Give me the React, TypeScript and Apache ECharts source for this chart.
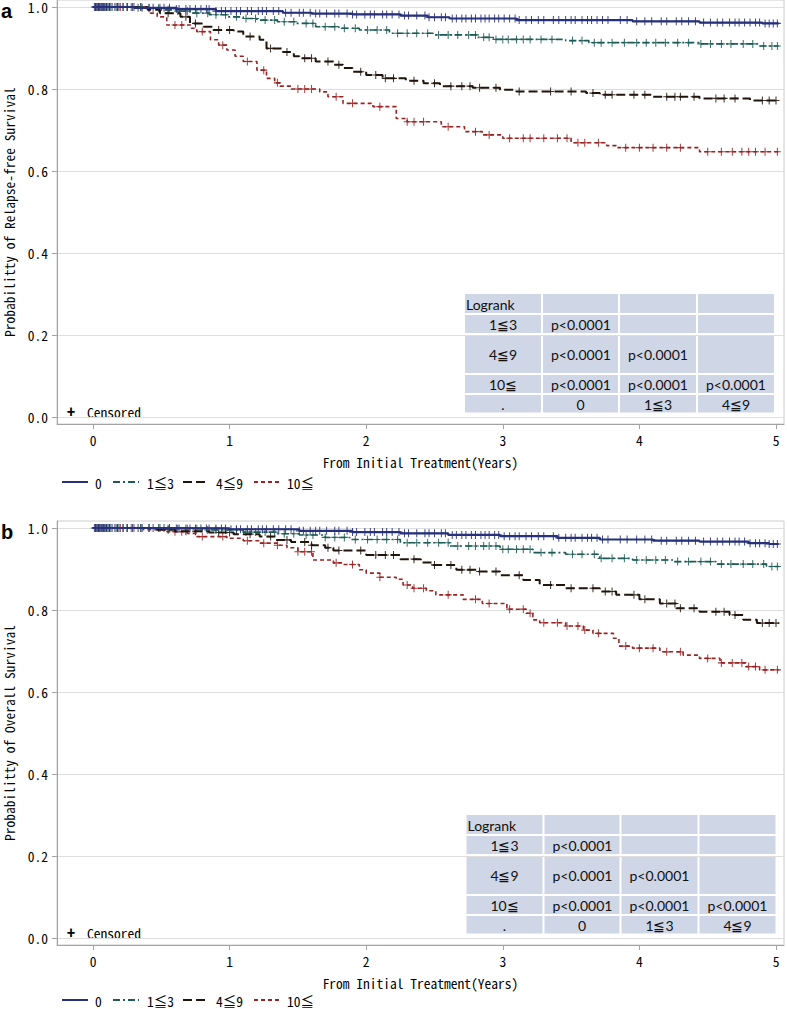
import { useEffect, useRef } from 'react';
import * as echarts from 'echarts';

// ---------- data ----------
const groups = ['0', '1≦3', '4≦9', '10≦'];
const xTicks = [0, 1, 2, 3, 4, 5];
const yTicks = [0, 0.2, 0.4, 0.6, 0.8, 1.0];
const xTitle = 'From Initial Treatment(Years)';
const yTitleA = 'Probabilitty of Relapse-free Survival';
const yTitleB = 'Probabilitty of Overall Survival';
const censoredLabel = 'Censored';

// Kaplan-Meier steps [years, survival] — panel a (relapse-free survival)
const rfs0 = [[0, 1], [0.3, 0.998], [0.61, 0.995], [0.9, 0.99], [1.39, 0.986], [1.6, 0.984], [1.9, 0.982], [2.25, 0.979], [2.45, 0.975], [2.61, 0.972], [3.1, 0.968], [3.95, 0.965], [4.44, 0.962], [4.9, 0.96], [5.02, 0.96]];
const rfs13 = [[0, 1], [0.37, 0.997], [0.5, 0.993], [0.61, 0.99], [0.73, 0.985], [0.85, 0.981], [0.98, 0.976], [1.1, 0.972], [1.2, 0.968], [1.35, 0.964], [1.49, 0.96], [1.63, 0.952], [1.8, 0.948], [1.95, 0.944], [2.17, 0.936], [2.49, 0.932], [2.81, 0.926], [2.93, 0.921], [3.46, 0.918], [3.63, 0.913], [4.44, 0.91], [4.88, 0.905], [5.02, 0.905]];
const rfs49 = [[0, 1], [0.4, 0.993], [0.49, 0.985], [0.64, 0.976], [0.71, 0.96], [0.81, 0.952], [0.88, 0.944], [1.03, 0.94], [1.1, 0.928], [1.22, 0.92], [1.27, 0.899], [1.39, 0.89], [1.47, 0.88], [1.51, 0.875], [1.63, 0.867], [1.76, 0.859], [1.83, 0.851], [1.9, 0.842], [2.0, 0.834], [2.12, 0.826], [2.29, 0.82], [2.42, 0.814], [2.54, 0.807], [2.78, 0.803], [2.98, 0.798], [3.1, 0.794], [3.61, 0.79], [3.71, 0.786], [4.1, 0.781], [4.44, 0.777], [4.81, 0.772], [5.02, 0.772]];
const rfs10 = [[0, 1], [0.39, 0.995], [0.42, 0.985], [0.47, 0.976], [0.54, 0.956], [0.72, 0.948], [0.76, 0.94], [0.86, 0.92], [0.92, 0.907], [0.98, 0.895], [1.04, 0.88], [1.1, 0.867], [1.2, 0.846], [1.27, 0.826], [1.33, 0.815], [1.37, 0.807], [1.45, 0.8], [1.66, 0.793], [1.72, 0.781], [1.83, 0.765], [2.05, 0.757], [2.22, 0.728], [2.3, 0.72], [2.55, 0.708], [2.72, 0.696], [2.85, 0.688], [3.0, 0.68], [3.5, 0.669], [3.76, 0.662], [3.83, 0.657], [4.44, 0.647], [5.02, 0.647]];

// panel b (overall survival)
const os0 = [[0, 1], [0.6, 0.999], [1.0, 0.997], [1.51, 0.993], [1.9, 0.99], [2.25, 0.987], [2.6, 0.983], [2.98, 0.98], [3.4, 0.976], [3.71, 0.972], [4.1, 0.969], [4.44, 0.967], [4.8, 0.963], [4.95, 0.961], [5.02, 0.961]];
const os13 = [[0, 1], [0.5, 0.998], [0.8, 0.995], [1.1, 0.99], [1.35, 0.986], [1.51, 0.983], [1.7, 0.977], [1.88, 0.972], [2.25, 0.964], [2.61, 0.956], [2.98, 0.948], [3.22, 0.94], [3.46, 0.936], [3.71, 0.926], [3.95, 0.922], [4.25, 0.918], [4.56, 0.912], [4.93, 0.906], [5.02, 0.906]];
const os49 = [[0, 1], [0.45, 0.996], [0.6, 0.992], [0.85, 0.989], [1.03, 0.985], [1.22, 0.979], [1.34, 0.971], [1.45, 0.966], [1.6, 0.958], [1.7, 0.952], [1.76, 0.945], [2.0, 0.934], [2.25, 0.924], [2.4, 0.916], [2.49, 0.91], [2.66, 0.898], [2.81, 0.894], [2.98, 0.885], [3.15, 0.873], [3.27, 0.861], [3.46, 0.853], [3.71, 0.845], [3.83, 0.837], [4.0, 0.826], [4.15, 0.816], [4.27, 0.804], [4.44, 0.796], [4.66, 0.788], [4.76, 0.776], [4.86, 0.768], [5.02, 0.768]];
const os10 = [[0, 1], [0.37, 0.996], [0.54, 0.991], [0.69, 0.987], [0.76, 0.979], [0.98, 0.975], [1.1, 0.969], [1.22, 0.963], [1.35, 0.958], [1.42, 0.952], [1.5, 0.942], [1.61, 0.922], [1.76, 0.915], [1.83, 0.911], [1.95, 0.898], [2.0, 0.89], [2.1, 0.88], [2.22, 0.875], [2.27, 0.861], [2.34, 0.853], [2.44, 0.847], [2.51, 0.837], [2.71, 0.826], [2.85, 0.816], [3.03, 0.802], [3.17, 0.792], [3.22, 0.776], [3.27, 0.769], [3.46, 0.761], [3.59, 0.751], [3.66, 0.743], [3.81, 0.731], [3.85, 0.712], [3.95, 0.707], [4.15, 0.698], [4.32, 0.69], [4.44, 0.682], [4.59, 0.671], [4.78, 0.662], [4.88, 0.654], [5.02, 0.654]];

// censoring times (years)
const censor0 = [0.01, 0.02, 0.03, 0.04, 0.05, 0.06, 0.07, 0.08, 0.09, 0.1, 0.11, 0.12, 0.14, 0.16, 0.19, 0.22, 0.25, 0.29, 0.33, 0.36, 0.41, 0.44, 0.49, 0.52, 0.56, 0.61, 0.63, 0.68, 0.71, 0.75, 0.79, 0.83, 0.85, 0.9, 0.94, 0.97, 1.01, 1.05, 1.08, 1.13, 1.16, 1.21, 1.24, 1.27, 1.32, 1.36, 1.41, 1.45, 1.51, 1.54, 1.59, 1.63, 1.66, 1.71, 1.77, 1.8, 1.86, 1.9, 1.93, 1.99, 2.03, 2.06, 2.12, 2.15, 2.19, 2.24, 2.28, 2.31, 2.37, 2.43, 2.46, 2.5, 2.55, 2.58, 2.63, 2.66, 2.7, 2.73, 2.77, 2.8, 2.84, 2.87, 2.9, 2.94, 2.97, 3.01, 3.05, 3.09, 3.12, 3.17, 3.21, 3.26, 3.3, 3.37, 3.41, 3.46, 3.5, 3.53, 3.58, 3.62, 3.65, 3.69, 3.73, 3.77, 3.86, 3.91, 3.98, 4.04, 4.09, 4.16, 4.2, 4.27, 4.31, 4.36, 4.41, 4.47, 4.52, 4.57, 4.61, 4.66, 4.7, 4.73, 4.77, 4.81, 4.85, 4.88, 4.92, 4.95, 4.98, 5.01];
const censor13 = [0.02, 0.04, 0.06, 0.08, 0.1, 0.13, 0.17, 0.22, 0.28, 0.35, 0.41, 0.48, 0.55, 0.62, 0.69, 0.76, 0.84, 0.9, 0.97, 1.05, 1.12, 1.19, 1.26, 1.33, 1.4, 1.47, 1.56, 1.61, 1.7, 1.77, 1.84, 1.92, 2.01, 2.08, 2.15, 2.23, 2.3, 2.37, 2.45, 2.53, 2.6, 2.67, 2.75, 2.8, 2.86, 2.9, 2.95, 3.0, 3.04, 3.1, 3.15, 3.2, 3.28, 3.36, 3.51, 3.58, 3.67, 3.72, 3.8, 3.89, 3.98, 4.05, 4.12, 4.19, 4.28, 4.36, 4.45, 4.52, 4.6, 4.67, 4.76, 4.83, 4.91, 4.97, 5.01];
const censor49 = [0.02, 0.05, 0.08, 0.12, 0.18, 0.25, 0.35, 0.55, 0.68, 0.75, 0.92, 1.0, 1.15, 1.3, 1.42, 1.55, 1.6, 1.72, 1.8, 1.96, 2.07, 2.14, 2.2, 2.35, 2.5, 2.62, 2.7, 2.76, 2.83, 2.95, 3.12, 3.35, 3.5, 3.66, 3.75, 3.8, 3.96, 4.04, 4.2, 4.26, 4.3, 4.4, 4.56, 4.62, 4.7, 4.9, 4.95, 5.0];
const censor10 = [0.03, 0.1, 0.2, 0.3, 0.6, 0.65, 0.8, 0.95, 1.13, 1.25, 1.35, 1.5, 1.55, 1.6, 1.78, 1.9, 2.1, 2.3, 2.35, 2.42, 2.6, 2.8, 2.9, 3.05, 3.15, 3.2, 3.3, 3.4, 3.47, 3.55, 3.6, 3.7, 3.9, 4.0, 4.1, 4.2, 4.3, 4.5, 4.6, 4.68, 4.75, 4.8, 4.85, 4.92, 5.01];

// log-rank table
const tableHeader = 'Logrank';
const tableRowLabels = ['1≦3', '4≦9', '10≦'];
const tableColLabels = ['0', '1≦3', '4≦9'];
const pValues = [['p<0.0001'], ['p<0.0001', 'p<0.0001'], ['p<0.0001', 'p<0.0001', 'p<0.0001']];
const tableCornerLabel = '.';

// ---------- styles / layout ----------
const COLORS = ['#27307a', '#1d5c55', '#21140c', '#9a2222'];
const WIDTHS = [2.2, 1.6, 2, 1.6];
const DASHES: any[] = ['solid', [7, 3, 2, 3], [9, 4], [4, 3]];
const MONO = "'Noto Sans Mono CJK JP', 'Noto Sans Mono CJK SC', 'DejaVu Sans Mono', monospace";
const TFONT = "Lato, 'Liberation Sans', sans-serif";
const PLUS = 'path://M4.3,0H5.7V4.3H10V5.7H5.7V10H4.3V5.7H0V4.3H4.3Z';

const GRID_LEFT = 57;
const GRID_W = 727;
const GRID_H = 424;
const PANEL_TOPS = [0, 521];
const X_MIN = -36 / 136.6;
const X_MAX = 691 / 136.6;
const Y_MAX = 1 + 7 / 410;
const Y_MIN = -7 / 410;

const TABLE_COLS = [[465, 541], [543, 618], [620, 696], [698, 774]];
const TABLE_ROWS = [[294, 313], [315, 333], [335.5, 373], [375, 393], [395, 412.5]];
const TABLE_DX = [0, 1.5];
const LEGEND_LINE_X = [62, 113, 183, 254];
const LEGEND_TEXT_X = [95, 147, 216, 287];
const LEGEND_Y = [482, 479];

function valueAt(steps: number[][], t: number) {
  let v = steps[0][1];
  for (const [x, y] of steps) {
    if (x <= t) v = y;
    else break;
  }
  return v;
}

function buildTable(dx: number, dy: number) {
  const children: any[] = [];
  const x0 = TABLE_COLS[0][0], x1 = TABLE_COLS[3][1];
  const y0 = TABLE_ROWS[0][0], y1 = TABLE_ROWS[4][1];
  children.push({ type: 'rect', shape: { x: x0 + dx, y: y0 + dy, width: x1 - x0, height: y1 - y0 }, style: { fill: '#ffffff' } });
  const content: string[][] = [
    [tableHeader, '', '', ''],
    ...tableRowLabels.map((l, i) => [l, ...pValues[i], ...Array(3 - pValues[i].length).fill('')]),
    [tableCornerLabel, ...tableColLabels],
  ];
  content.forEach((row, r) => {
    const [ry0, ry1] = TABLE_ROWS[r];
    row.forEach((txt, c) => {
      const [cx0, cx1] = TABLE_COLS[c];
      children.push({ type: 'rect', shape: { x: cx0 + dx, y: ry0 + dy, width: cx1 - cx0, height: ry1 - ry0 }, style: { fill: '#cfd6e6' } });
      if (!txt) return;
      let align = 'center';
      let tx = (cx0 + cx1) / 2;
      if (r === 0 && c === 0) { align = 'left'; tx = cx0 + 1; }
      else if (c > 0 && r > 0 && r < 4) { align = 'left'; tx = cx0 + 8; }
      children.push({
        type: 'text',
        style: { x: tx + dx, y: (ry0 + ry1) / 2 + dy + 0.5, text: txt, align, verticalAlign: 'middle', font: `14px ${TFONT}`, fill: '#111' },
      });
    });
  });
  return children;
}

export default function App() {
  const ref = useRef<HTMLDivElement>(null);
  useEffect(() => {
    if (!ref.current) return;
    const chart = echarts.init(ref.current, null, { renderer: 'svg' });
    const panels = [
      { letter: 'a', yName: yTitleA, curves: [rfs0, rfs13, rfs49, rfs10] },
      { letter: 'b', yName: yTitleB, curves: [os0, os13, os49, os10] },
    ];
    const censors = [censor0, censor13, censor49, censor10];
    const grids: any[] = [], xAxes: any[] = [], yAxes: any[] = [], series: any[] = [], graphics: any[] = [];
    const axisLineStyle = { color: '#a3a3a3', width: 1 };
    const labelStyle = { fontFamily: MONO, fontSize: 13.5, lineHeight: 14, color: '#000' };
    panels.forEach((p, pi) => {
      const top = PANEL_TOPS[pi];
      grids.push({
        left: GRID_LEFT, top, width: GRID_W, height: GRID_H, show: true,
        borderColor: '#cccccc', borderWidth: 1, backgroundColor: 'transparent',
        containLabel: false, outerBoundsMode: 'none',
      });
      xAxes.push({
        type: 'value', gridIndex: pi, min: X_MIN, max: X_MAX,
        name: xTitle, nameLocation: 'middle', nameGap: 31,
        nameTextStyle: labelStyle,
        axisLine: { show: true, onZero: false, lineStyle: axisLineStyle },
        axisTick: { show: true, length: 5, lineStyle: axisLineStyle, customValues: xTicks },
        axisLabel: { customValues: xTicks, margin: 9, ...labelStyle, formatter: (v: number) => String(v) },
        splitLine: { show: false },
      });
      yAxes.push({
        type: 'value', gridIndex: pi, min: Y_MIN, max: Y_MAX,
        name: p.yName, nameLocation: 'middle', nameGap: 41,
        nameTextStyle: labelStyle,
        axisLine: { show: true, onZero: false, lineStyle: axisLineStyle },
        axisTick: { show: true, length: 5, lineStyle: axisLineStyle, customValues: yTicks },
        axisLabel: { customValues: yTicks, margin: 9, ...labelStyle, lineHeight: 12, formatter: (v: number) => v.toFixed(1) },
        splitLine: { show: true, lineStyle: { color: '#dedede', width: 1 } },
      });
      // draw order: red, black, teal, blue (blue on top)
      [3, 2, 1, 0].forEach((g) => {
        const steps = p.curves[g];
        series.push({
          type: 'line', name: groups[g], xAxisIndex: pi, yAxisIndex: pi, data: steps, step: 'end',
          symbol: 'none', silent: true, clip: false,
          lineStyle: { color: COLORS[g], width: WIDTHS[g], type: DASHES[g] },
        });
        series.push({
          type: 'scatter', name: groups[g] + ' censored', xAxisIndex: pi, yAxisIndex: pi,
          data: censors[g].map((t) => [t, valueAt(steps, t)]),
          symbol: PLUS, symbolSize: [7, 8], silent: true,
          itemStyle: { color: COLORS[g], opacity: 0.9 },
        });
      });
      // panel letter
      graphics.push({ type: 'text', style: { x: 1, y: top + 11, text: p.letter, font: `bold 20px 'Liberation Sans', Arial, sans-serif`, fill: '#000', verticalAlign: 'middle' } });
      // censored legend inside plot
      graphics.push({ type: 'text', style: { x: 67, y: top + 411, text: '+', font: `bold 16px ${MONO}`, fill: '#000', verticalAlign: 'middle' } });
      graphics.push({ type: 'text', style: { x: 87, y: top + 412, text: censoredLabel, font: `13.5px ${MONO}`, fill: '#000', verticalAlign: 'middle' } });
      // table
      graphics.push({ type: 'group', children: buildTable(TABLE_DX[pi], top) });
      // legend
      groups.forEach((gname, g) => {
        const ly = top + LEGEND_Y[pi];
        graphics.push({ type: 'line', shape: { x1: LEGEND_LINE_X[g], y1: ly, x2: LEGEND_LINE_X[g] + 26, y2: ly }, style: { stroke: COLORS[g], lineWidth: 2, lineDash: DASHES[g] === 'solid' ? null : DASHES[g] } });
        graphics.push({ type: 'text', style: { x: LEGEND_TEXT_X[g], y: ly + 0.5, text: gname, font: `13.5px ${MONO}`, lineHeight: 14, fill: '#000', verticalAlign: 'middle' } });
      });
    });
    chart.setOption({
      animation: false,
      backgroundColor: '#ffffff',
      grid: grids,
      xAxis: xAxes,
      yAxis: yAxes,
      series,
      graphic: graphics,
    });
    return () => chart.dispose();
  }, []);
  return <div ref={ref} style={{ position: 'absolute', left: 0, top: 0, width: 787, height: 1009 }} />;
}
